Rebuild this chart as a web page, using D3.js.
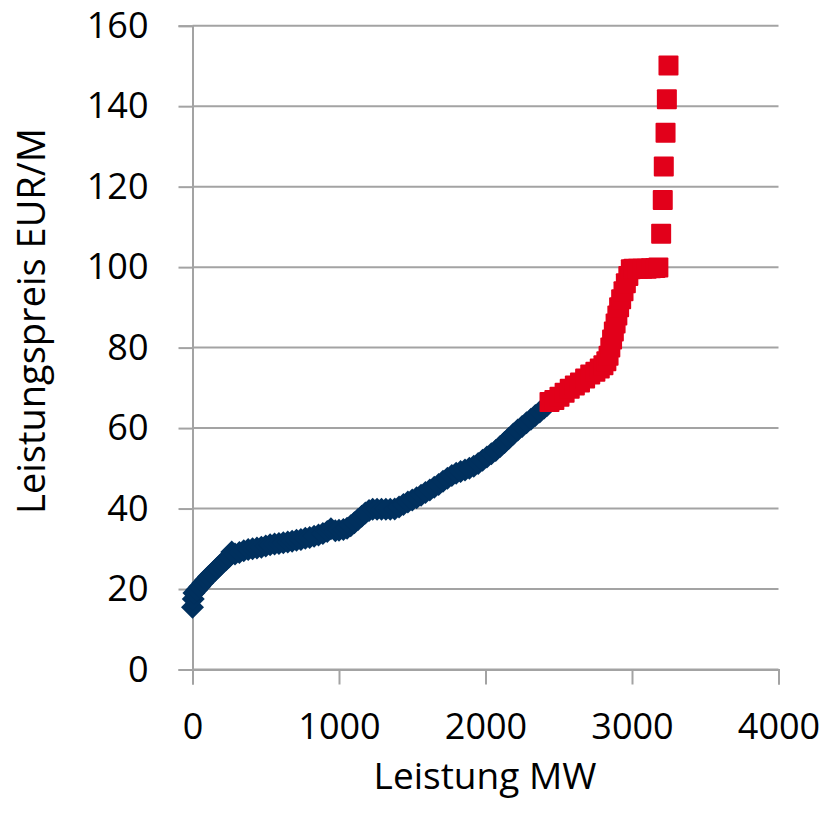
<!DOCTYPE html>
<html>
<head>
<meta charset="utf-8">
<script src="https://cdn.jsdelivr.net/npm/d3@7"></script>
<style>
  body { margin: 0; background: #fff; }
  text { font-family: "Open Sans", "Noto Sans", sans-serif; fill: #000; }
</style>
</head>
<body>
<div id="chart"></div>
<script>
// blue series (diamonds): [Leistung MW, Leistungspreis]
var blueSeries = [
  [0,15.5],[5,17.5],[10,19],[30,19.8],[50,20.6],[70,21.5],[90,22.3],[110,23.1],[130,23.8],[150,24.5],
  [170,25.2],[190,26],[210,26.7],[230,27.3],[250,28],[268,29.2],[290,28.7],[320,29.1],[350,29.5],[380,29.8],
  [410,30],[440,30.2],[470,30.4],[500,30.7],[530,31],[560,31.2],[590,31.3],[620,31.5],[650,31.7],[680,31.9],
  [710,32.1],[740,32.3],[770,32.6],[800,32.8],[830,33.1],[860,33.4],[890,33.8],[920,34.3],[945,35],[975,34.5],
  [1000,34.6],[1030,34.8],[1055,35.1],[1080,35.7],[1105,36.5],[1130,37.3],[1155,38.1],[1180,38.9],[1205,39.5],[1230,39.8],
  [1260,39.8],[1290,39.8],[1320,39.8],[1350,39.8],[1380,39.9],[1410,40.4],[1440,41],[1470,41.6],[1500,42.1],[1530,42.7],
  [1560,43.3],[1590,44],[1620,44.6],[1650,45.3],[1680,46],[1710,46.8],[1740,47.5],[1770,48.2],[1800,48.8],[1830,49.2],
  [1860,49.6],[1890,50],[1920,50.5],[1950,51.2],[1980,52],[2010,52.8],[2040,53.6],[2070,54.4],[2100,55.4],[2130,56.4],
  [2160,57.5],[2190,58.5],[2220,59.5],[2250,60.4],[2280,61.3],[2310,62.2],[2340,63.1],[2370,64],[2400,65],[2420,65.6]
]

// red series (squares)
var redSeries = [
  [2437,66.5],[2470,67],[2505,67.8],[2540,68.8],[2575,69.8],[2610,70.6],[2645,71.3],[2680,72.3],[2715,73.3],[2750,74],
  [2780,74.8],[2805,75.6],[2825,76.6],[2840,78],[2852,80],[2864,82],[2876,84],[2888,86],[2900,88],[2912,90],
  [2926,92],[2942,94],[2958,96],[2975,97.8],[2992,99.5],[3010,99.6],[3040,99.6],[3070,99.6],[3100,99.6],[3130,99.7],
  [3160,99.8],[3180,99.9],[3199,108.3],[3210,116.7],[3217,125],[3229,133.4],[3238,141.7],[3249,150.1]
]

var xTicks = [0, 1000, 2000, 3000, 4000]
var yTicks = [0, 20, 40, 60, 80, 100, 120, 140, 160]

var width = 828
var height = 815

var x = d3.scaleLinear().domain([0, 4000]).range([192.5, 778.5])
var y = d3.scaleLinear().domain([0, 160]).range([669.5, 25.7])

var svg = d3.select("#chart")
  .append("svg")
  .attr("width", width)
  .attr("height", height)

var gridColor = "#a3a3a3"

// horizontal gridlines
svg.append("g")
  .selectAll("line")
  .data(yTicks)
  .join("line")
  .attr("x1", x(0))
  .attr("x2", x(4000))
  .attr("y1", d => y(d))
  .attr("y2", d => y(d))
  .attr("stroke", gridColor)
  .attr("stroke-width", 2)

// y axis
var yAxis = svg.append("g")
  .attr("transform", "translate(" + x(0) + ",0)")
  .call(d3.axisLeft(y).tickValues(yTicks).tickSize(14).tickPadding(30))
yAxis.select(".domain").attr("stroke", gridColor).attr("stroke-width", 2)
yAxis.selectAll(".tick line").attr("stroke", gridColor).attr("stroke-width", 2)
yAxis.selectAll(".tick text")
  .attr("font-size", 36)
  .attr("font-family", "Open Sans")
  .attr("fill", "#000")

// x axis
var xAxis = svg.append("g")
  .attr("transform", "translate(0," + y(0) + ")")
  .call(d3.axisBottom(x).tickValues(xTicks).tickFormat(d3.format("d")).tickSize(15).tickPadding(29))
xAxis.select(".domain").attr("stroke", gridColor).attr("stroke-width", 2)
xAxis.selectAll(".tick line").attr("stroke", gridColor).attr("stroke-width", 2)
xAxis.selectAll(".tick text")
  .attr("font-size", 36)
  .attr("font-family", "Open Sans")
  .attr("fill", "#000")

// blue diamonds
var dr = 11.5
svg.append("g")
  .selectAll("path")
  .data(blueSeries)
  .join("path")
  .attr("d", d => {
    var cx = x(d[0]), cy = y(d[1])
    return "M" + cx + "," + (cy - dr) + "L" + (cx + dr) + "," + cy + "L" + cx + "," + (cy + dr) + "L" + (cx - dr) + "," + cy + "Z"
  })
  .attr("fill", "#00305e")

// red squares
var sq = 20
svg.append("g")
  .selectAll("rect")
  .data(redSeries)
  .join("rect")
  .attr("x", d => x(d[0]) - sq / 2)
  .attr("y", d => y(d[1]) - sq / 2)
  .attr("width", sq)
  .attr("height", sq)
  .attr("rx", 1)
  .attr("fill", "#e2001a")

// axis titles
svg.append("text")
  .attr("x", 485)
  .attr("y", 789)
  .attr("text-anchor", "middle")
  .attr("font-size", 37)
  .text("Leistung MW")

svg.append("text")
  .attr("transform", "translate(45,321) rotate(-90)")
  .attr("text-anchor", "middle")
  .attr("font-size", 38)
  .text("Leistungspreis EUR/M")
</script>
</body>
</html>
